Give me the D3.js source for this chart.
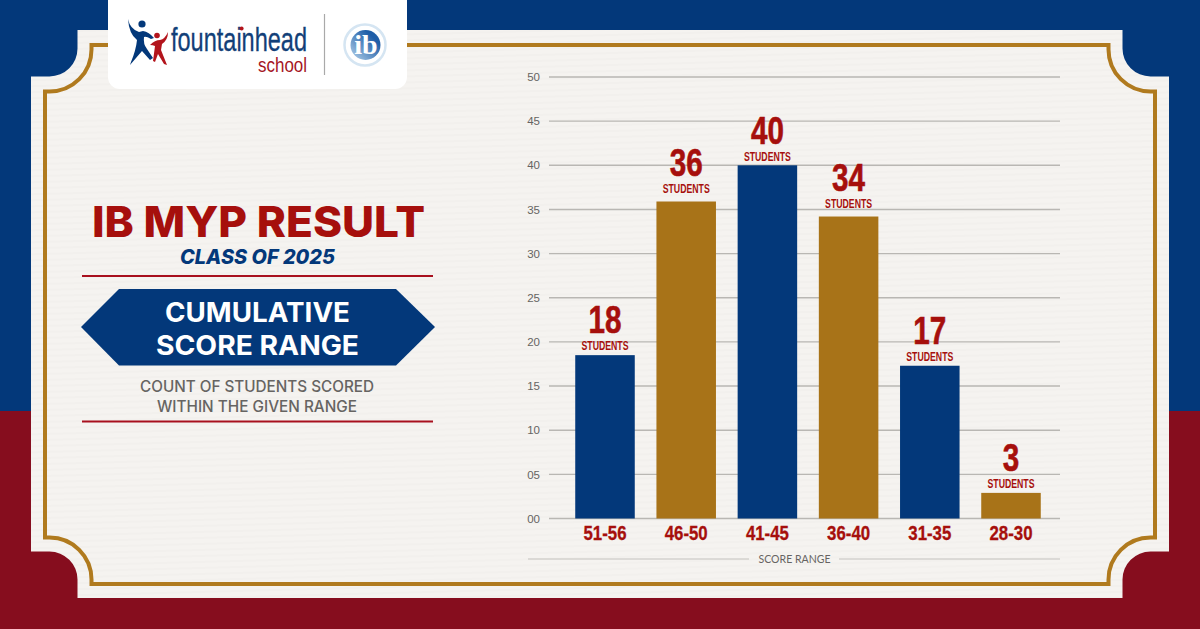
<!DOCTYPE html>
<html>
<head>
<meta charset="utf-8">
<script src="https://cdn.jsdelivr.net/npm/d3@7"></script>
<style>
  html, body { margin: 0; padding: 0; background: #fff; }
  svg { display: block; }
</style>
</head>
<body>
<svg id="chart" width="1200" height="629"></svg>
<script>
const categories = ["51-56", "46-50", "41-45", "36-40", "31-35", "28-30"];
const students = [18, 36, 40, 34, 17, 3];
// bar heights as drawn, they differ slightly from the printed counts
const barValues = [18.5, 35.9, 40, 34.2, 17.3, 2.9];
// height on the y scale where each label sits, the labels are not evenly spaced above the bars
const labelValues = [19.1, 36.9, 40.45, 35.2, 17.85, 3.45];
const yTicks = [0, 5, 10, 15, 20, 25, 30, 35, 40, 45, 50];

const blue = "#03387a";
const maroon = "#860d1e";
const gold = "#a87318";
const frameGold = "#b07a1e";
const red = "#a60f0c";
const paper = "#f5f3f0";
const grey = "#666462";
const narrow = "'Liberation Sans', sans-serif";
const wide = "Inter, 'Liberation Sans', sans-serif";

const svg = d3.select("#chart");
const defs = svg.append("defs");

// background halves
svg.append("rect").attr("width", 1200).attr("height", 411).attr("fill", blue);
svg.append("rect").attr("y", 411).attr("width", 1200).attr("height", 218).attr("fill", maroon);

// ticket shape: square bites out of the corners, their inner corner rounded
function ticket(x0, y0, x1, y1, bite, r) {
  const k = bite - r;
  return `M${x0 + bite},${y0} H${x1 - bite} V${y0 + k} A${r},${r} 0 0 0 ${x1 - k},${y0 + bite} H${x1}
    V${y1 - bite} H${x1 - k} A${r},${r} 0 0 0 ${x1 - bite},${y1 - k} V${y1}
    H${x0 + bite} V${y1 - k} A${r},${r} 0 0 0 ${x0 + k},${y1 - bite} H${x0}
    V${y0 + bite} H${x0 + k} A${r},${r} 0 0 0 ${x0 + bite},${y0 + k} Z`;
}
const weave = defs.append("pattern").attr("id", "weave").attr("patternUnits", "userSpaceOnUse")
  .attr("width", 120).attr("height", 6).attr("patternTransform", "rotate(-1.5)");
weave.append("rect").attr("width", 120).attr("height", 6).attr("fill", paper);
weave.append("line").attr("x2", 120).attr("y1", 3).attr("y2", 3).attr("stroke", "#f0eeeb").attr("stroke-width", 1);

svg.append("path").attr("d", ticket(31, 30, 1169, 598, 46.5, 28)).attr("fill", "url(#weave)");
svg.append("path").attr("d", ticket(45, 45, 1155, 584, 46.5, 42))
  .attr("fill", "none").attr("stroke", frameGold).attr("stroke-width", 4);

function addText(g, str, x, y, o) {
  const t = g.append("text").attr("x", x).attr("y", y)
    .attr("text-anchor", o.anchor || "middle")
    .attr("font-family", o.family || wide)
    .attr("font-size", o.size)
    .attr("font-weight", o.weight || 400)
    .attr("fill", o.fill)
    .text(str);
  if (o.italic) t.attr("font-style", "italic");
  if (o.len) t.attr("textLength", o.len).attr("lengthAdjust", "spacingAndGlyphs");
  return t;
}

// logo card
const logo = svg.append("g");
logo.append("path")
  .attr("d", "M108,0 H407 V77 A12,12 0 0 1 395,89 H120 A12,12 0 0 1 108,77 Z")
  .attr("fill", "#fff");
logo.append("circle").attr("cx", 142).attr("cy", 24).attr("r", 3.6).attr("fill", blue);
logo.append("path")
  .attr("d", "M128,19 Q130,29 139,32 L143,31 Q149,32 154,38 L151,39 Q146,36 144,37 Q143,44 147,49 L153,58 L150,60 L142,51 L130,65 L131,62 Q136,50 137,40 Q129,34 128,19 Z")
  .attr("fill", blue);
logo.append("circle").attr("cx", 157).attr("cy", 35.5).attr("r", 2.8).attr("fill", "#b3141c");
logo.append("path")
  .attr("d", "M150,45 Q155,40 160,40 Q165,39 168,32 Q168,40 162,44 L161,50 L167,65 L164,64 L158,54 L155,62 L153,61 L155,46 Q153,45 150,45 Z")
  .attr("fill", "#b3141c");
addText(logo, "fountainhead", 171, 51, { anchor: "start", family: narrow, size: 33, fill: "#123f78", len: 136 })
  .attr("stroke", "#123f78").attr("stroke-width", 0.3);
addText(logo, "school", 307, 72, { anchor: "end", family: narrow, size: 20, fill: "#a5161f", len: 49 });
logo.append("circle").attr("cx", 241.6).attr("cy", 28.5).attr("r", 2).attr("fill", "#b3141c");
logo.append("line").attr("x1", 324.5).attr("x2", 324.5).attr("y1", 14).attr("y2", 75)
  .attr("stroke", "#a9a9a9").attr("stroke-width", 1.2);
const grad = defs.append("linearGradient").attr("id", "ibg")
  .attr("x1", 1).attr("y1", 0).attr("x2", 0).attr("y2", 1);
grad.append("stop").attr("offset", "0.25").attr("stop-color", "#1f5ea8");
grad.append("stop").attr("offset", "1").attr("stop-color", "#b5d2ea");
logo.append("circle").attr("cx", 365).attr("cy", 45).attr("r", 20.5)
  .attr("fill", "#fff").attr("stroke", "#d5e5f2").attr("stroke-width", 2.5);
logo.append("circle").attr("cx", 365.5).attr("cy", 45).attr("r", 15).attr("fill", "url(#ibg)");
addText(logo, "ib", 366, 54, { family: "'Liberation Serif', serif", size: 28, weight: 700, fill: "#fff" });

// left text block
const left = svg.append("g");
addText(left, "IB MYP RESULT", 258.5, 237, { size: 43, weight: 800, fill: red, len: 333 });
addText(left, "CLASS OF 2025", 257.5, 264, { size: 20, weight: 800, italic: true, fill: blue, len: 155 });
left.append("line").attr("x1", 82).attr("x2", 433).attr("y1", 276).attr("y2", 276).attr("stroke", "#a8101e").attr("stroke-width", 2);
left.append("path").attr("d", "M81,327 L119,289 H396 L435,327 L396,365.5 H119 Z").attr("fill", blue);
addText(left, "CUMULATIVE", 257.5, 322, { size: 27, weight: 700, fill: "#fff", len: 185 });
addText(left, "SCORE RANGE", 257.5, 355, { size: 27, weight: 700, fill: "#fff", len: 203 });
addText(left, "COUNT OF STUDENTS SCORED", 257, 392, { size: 15.5, weight: 500, fill: grey, len: 234 });
addText(left, "WITHIN THE GIVEN RANGE", 257, 412, { size: 15.5, weight: 500, fill: grey, len: 200 });
left.append("line").attr("x1", 82).attr("x2", 433).attr("y1", 421.5).attr("y2", 421.5).attr("stroke", "#a8101e").attr("stroke-width", 2);

// chart
const x = d3.scaleBand().domain(categories).range([564.4, 1051.6]).paddingInner(0.267).paddingOuter(0.1335);
const y = d3.scaleLinear().domain([0, 50]).range([518.5, 77]);

const yAxis = svg.append("g").attr("transform", "translate(549,0)")
  .call(d3.axisLeft(y).tickValues(yTicks).tickSize(0).tickPadding(9).tickFormat(d3.format("02d")));
yAxis.select(".domain").remove();
yAxis.selectAll("text").attr("font-family", "'Liberation Sans', sans-serif").attr("font-size", 11.5).attr("fill", grey);

svg.append("g").selectAll("line").data(yTicks).join("line")
  .attr("x1", 549).attr("x2", 1060)
  .attr("y1", d => y(d)).attr("y2", d => y(d))
  .attr("stroke", "#b9b7b3").attr("stroke-width", 1.4);

svg.append("g").selectAll("rect").data(categories).join("rect")
  .attr("x", d => x(d))
  .attr("width", x.bandwidth())
  .attr("y", (d, i) => y(barValues[i]))
  .attr("height", (d, i) => y(0) - y(barValues[i]))
  .attr("fill", (d, i) => i % 2 ? gold : blue);

const xAxis = svg.append("g").attr("transform", "translate(0,518.5)")
  .call(d3.axisBottom(x).tickSize(0).tickPadding(8));
xAxis.select(".domain").remove();
xAxis.selectAll("text")
  .attr("font-family", narrow).attr("font-size", 19.5).attr("font-weight", 700).attr("fill", red)
  .attr("stroke", red).attr("stroke-width", 0.3)
  .attr("textLength", 43).attr("lengthAdjust", "spacingAndGlyphs");

// value labels
const labels = svg.append("g").selectAll("g").data(categories).join("g")
  .attr("transform", (d, i) => `translate(${x(d) + x.bandwidth() / 2},${y(labelValues[i])})`);
labels.append("text").attr("y", -17).attr("text-anchor", "middle")
  .attr("font-family", narrow).attr("font-size", 38.5).attr("font-weight", 700).attr("fill", red)
  .attr("stroke", red).attr("stroke-width", 0.6)
  .attr("textLength", (d, i) => String(students[i]).length * 16.5).attr("lengthAdjust", "spacingAndGlyphs")
  .text((d, i) => students[i]);
labels.append("text").attr("text-anchor", "middle")
  .attr("font-family", narrow).attr("font-size", 12).attr("font-weight", 700).attr("fill", red)
  .attr("textLength", 47).attr("lengthAdjust", "spacingAndGlyphs")
  .text("STUDENTS");

// axis title with rules either side
svg.append("line").attr("x1", 528).attr("x2", 749).attr("y1", 559).attr("y2", 559).attr("stroke", "#c4c2be").attr("stroke-width", 1.2);
svg.append("line").attr("x1", 839).attr("x2", 1060).attr("y1", 559).attr("y2", 559).attr("stroke", "#c4c2be").attr("stroke-width", 1.2);
addText(svg, "SCORE RANGE", 794.5, 562.7, { family: "Lato, 'Liberation Sans', sans-serif", size: 10.8, fill: grey, len: 72 });
</script>
</body>
</html>
